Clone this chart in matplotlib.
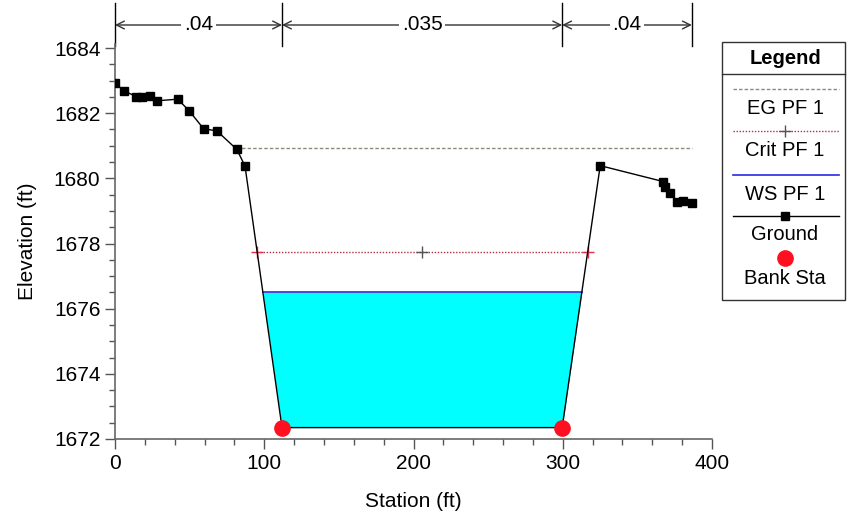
import numpy as np
import matplotlib
matplotlib.use('Agg')
import matplotlib.pyplot as plt
from matplotlib.lines import Line2D
from matplotlib.patches import Rectangle
from matplotlib.ticker import MultipleLocator

plt.rcParams['font.family'] = ['Liberation Sans', 'DejaVu Sans']

# Cross-section data
ground_sta = [0.0, 6.0, 14.1, 17.9, 23.5, 27.9, 42.0, 49.6, 59.4, 68.2, 81.6, 87.1,
              111.9, 299.6, 325.1, 367.5, 368.6, 372.0, 376.5, 380.9, 386.5]
ground_elev = [1682.92, 1682.69, 1682.51, 1682.49, 1682.53, 1682.38, 1682.43, 1682.08,
               1681.52, 1681.46, 1680.89, 1680.38, 1672.35, 1672.35, 1680.39, 1679.90,
               1679.74, 1679.56, 1679.28, 1679.30, 1679.25]
bank_sta = [111.9, 299.6]
bank_elev = [1672.35, 1672.35]
ws_elev = 1676.51
crit_elev = 1677.74
eg_elev = 1680.92
n_values = ['.04', '.035', '.04']
n_bounds = [0.0, 111.9, 299.6, 386.5]

legend_labels = ['EG PF 1', 'Crit PF 1', 'WS PF 1', 'Ground', 'Bank Sta']

W, H = 847, 517


def crossings(xs, ys, level):
    """Stations where the ground profile crosses a given elevation."""
    out = []
    for i in range(len(xs) - 1):
        y0, y1 = ys[i] - level, ys[i + 1] - level
        if y0 == 0:
            out.append(xs[i])
        elif y0 * y1 < 0:
            t = y0 / (y0 - y1)
            out.append(xs[i] + t * (xs[i + 1] - xs[i]))
    return out


def fxy(px, py):
    return px / W, 1 - py / H


fig = plt.figure(figsize=(W / 100, H / 100), dpi=100)
ax = fig.add_axes([115 / W, 1 - 439 / H, (712 - 115) / W, (439 - 44) / H])

gx = np.array(ground_sta)
gy = np.array(ground_elev)

# water fill
fine_x = np.linspace(gx.min(), gx.max(), 4000)
fine_y = np.interp(fine_x, gx, gy)
ax.fill_between(fine_x, fine_y, ws_elev, where=fine_y < ws_elev, interpolate=True,
                color='#00ffff', lw=0, zorder=1)

# WS line
ws_x = crossings(gx, gy, ws_elev)
ax.plot([ws_x[0], ws_x[-1]], [ws_elev, ws_elev], color='#2a2ae0', lw=1.2, zorder=3)

# Crit line
cr_x = crossings(gx, gy, crit_elev)
ax.plot([cr_x[0], cr_x[-1]], [crit_elev, crit_elev], color='#b03048', lw=1,
        ls=(0, (1, 1.2)), zorder=3)
ax.plot([cr_x[0], cr_x[-1]], [crit_elev, crit_elev], ls='none', marker='+',
        color='#e03050', ms=8, mew=1, zorder=4)
ax.plot([(cr_x[0] + cr_x[-1]) / 2], [crit_elev], ls='none', marker='+',
        color='#555555', ms=8, mew=1, zorder=4)

# EG line
eg_x = crossings(gx, gy, eg_elev)
ax.plot([eg_x[0], gx[-1]], [eg_elev, eg_elev], color='#8a8a7a', lw=1,
        ls=(0, (2.5, 1.5)), zorder=3)

# Ground
ax.plot(gx, gy, color='black', lw=1, marker='s', ms=6, zorder=5)

# Bank stations
ax.plot(bank_sta, bank_elev, ls='none', marker='o', color='#ff1020', ms=11, zorder=6)

ax.set_xlim(0, 400)
ax.set_ylim(1672, 1672 + (439 - 44) / 32.58)
ax.xaxis.set_major_locator(MultipleLocator(100))
ax.xaxis.set_minor_locator(MultipleLocator(20))
ax.yaxis.set_major_locator(MultipleLocator(2))
ax.yaxis.set_minor_locator(MultipleLocator(0.5))
ax.tick_params(axis='both', which='major', length=7, width=1, color='#555555',
               labelsize=15, direction='out')
ax.tick_params(axis='both', which='minor', length=4, width=1, color='#555555',
               direction='out')
for s in ['top', 'right']:
    ax.spines[s].set_visible(False)
for s in ['left', 'bottom']:
    ax.spines[s].set_color('#666666')
    ax.spines[s].set_linewidth(1.2)
ax.set_xlabel('Station (ft)', fontsize=15, labelpad=14)
ax.set_ylabel('Elevation (ft)', fontsize=15, labelpad=12)

# Manning's n annotations above the plot
trans = ax.get_xaxis_transform()
y_arrow = 1 + (44 - 25) / (439 - 44)
y_top = 1 + (44 - 3) / (439 - 44)
y_bot = 1 + (44 - 46) / (439 - 44)
for b in n_bounds:
    ax.plot([b, b], [y_bot, y_top], transform=trans, color='black', lw=1, clip_on=False)
for i, nv in enumerate(n_values):
    x0, x1 = n_bounds[i], n_bounds[i + 1]
    ax.annotate('', xy=(x0, y_arrow), xytext=(x1, y_arrow), xycoords=trans,
                textcoords=trans,
                arrowprops=dict(arrowstyle='<->', color='#333333', lw=1,
                                shrinkA=0, shrinkB=0, mutation_scale=14))
    ax.text((x0 + x1) / 2, y_arrow, nv, transform=trans, ha='center', va='center',
            fontsize=15, bbox=dict(facecolor='white', edgecolor='none', pad=2))

# Legend box drawn by hand
x0, y0 = fxy(722, 300)
x1, y1 = fxy(845, 42)
fig.add_artist(Rectangle((x0, y0), x1 - x0, y1 - y0, transform=fig.transFigure,
                         facecolor='white', edgecolor='#333333', lw=1))
fig.add_artist(Line2D([x0, x1], [fxy(0, 74)[1]] * 2, transform=fig.transFigure,
                      color='#333333', lw=1))
cx = fxy(785, 0)[0]
fig.text(cx, fxy(0, 59)[1], 'Legend', ha='center', va='center', fontsize=14.5,
         fontweight='bold')
lx = [fxy(733, 0)[0], fxy(839, 0)[0]]
ly = [89, 131, 175, 216, 258]
ty = [108, 150, 195, 235, 278]
fig.add_artist(Line2D(lx, [fxy(0, ly[0])[1]] * 2, transform=fig.transFigure,
                      color='#8a8a7a', lw=1, ls=(0, (2.5, 1.5))))
fig.add_artist(Line2D(lx, [fxy(0, ly[1])[1]] * 2, transform=fig.transFigure,
                      color='#b03048', lw=1, ls=(0, (1, 1.2))))
fig.add_artist(Line2D([cx], [fxy(0, ly[1])[1]], transform=fig.transFigure,
                      color='#555555', marker='+', ms=8, ls='none'))
fig.add_artist(Line2D(lx, [fxy(0, ly[2])[1]] * 2, transform=fig.transFigure,
                      color='#2a2ae0', lw=1.2))
fig.add_artist(Line2D(lx, [fxy(0, ly[3])[1]] * 2, transform=fig.transFigure,
                      color='black', lw=1))
fig.add_artist(Line2D([cx], [fxy(0, ly[3])[1]], transform=fig.transFigure,
                      color='black', marker='s', ms=6, ls='none'))
fig.add_artist(Line2D([cx], [fxy(0, ly[4])[1]], transform=fig.transFigure,
                      color='#ff1020', marker='o', ms=11, ls='none'))
for lab, y in zip(legend_labels, ty):
    fig.text(cx, fxy(0, y)[1], lab, ha='center', va='center', fontsize=14.5)

fig.savefig('out.png', dpi=100, facecolor='white')
